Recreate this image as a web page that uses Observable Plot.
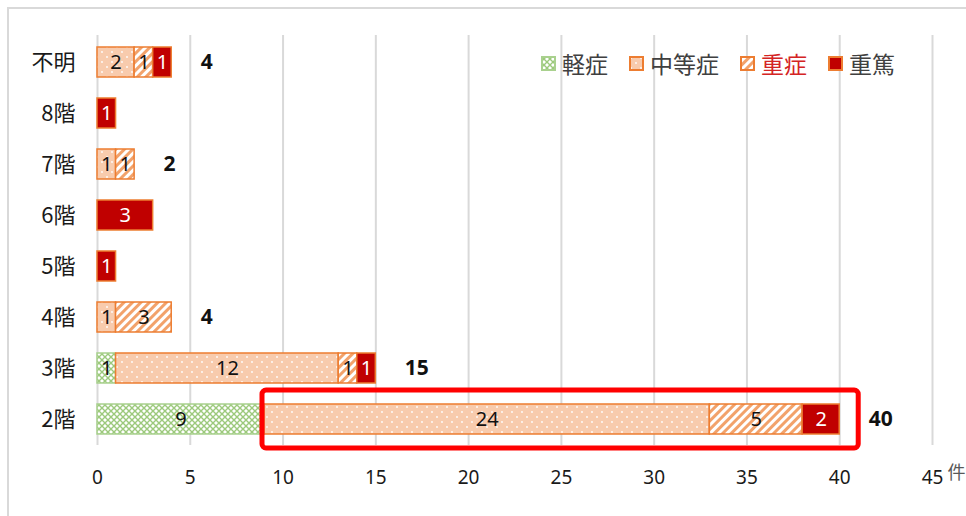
<!DOCTYPE html>
<html><head><meta charset="utf-8">
<script src="https://cdn.jsdelivr.net/npm/d3@7"></script>
<script src="https://cdn.jsdelivr.net/npm/@observablehq/plot@0.6"></script>
<style>
html,body{margin:0;padding:0;background:#fff;overflow:hidden;width:966px;height:516px}
#wrap{position:relative;width:966px;height:516px;font-family:"Noto Sans","Noto Sans CJK JP",sans-serif}
#border{position:absolute;left:7px;top:7px;width:1000px;height:600px;border:2px solid #d9d9d9;box-sizing:border-box}
#chart{position:absolute;left:0;top:0}
#legend{position:absolute;left:541px;top:46px;display:flex;align-items:center;font-size:23px;color:#404040;font-family:"Noto Sans CJK JP",sans-serif}
.item{display:flex;align-items:center;margin-right:21px}
.item svg{margin-right:6px}
</style></head>
<body>
<svg width="0" height="0" style="position:absolute">
<defs>
<pattern id="pMild" width="6" height="6" patternUnits="userSpaceOnUse">
<rect width="6" height="6" fill="#ffffff"/>
<path d="M0,0L6,6M6,0L0,6" stroke="#9cc97c" stroke-width="1.4"/>
</pattern>
<pattern id="pMod" width="10" height="10" patternUnits="userSpaceOnUse">
<rect width="10" height="10" fill="#f8cbad"/>
<circle cx="2" cy="2" r="0.9" fill="#fff"/>
<circle cx="7" cy="7" r="0.9" fill="#fff"/>
</pattern>
<pattern id="pSev" width="6" height="6" patternUnits="userSpaceOnUse" patternTransform="rotate(45)">
<rect width="6" height="6" fill="#ffffff"/>
<rect width="3" height="6" fill="#f2a26b"/>
</pattern>
</defs>
</svg>
<div id="wrap"><div id="border"></div><div id="chart"></div><div id="legend"></div></div>
<script>
const floors = ["不明","8階","7階","6階","5階","4階","3階","2階"];
const severities = ["軽症","中等症","重症","重篤"];
const mild     = [0,0,0,0,0,0,1,9];
const moderate = [2,0,1,0,0,1,12,24];
const severe   = [1,0,1,0,0,3,1,5];
const critical = [1,1,0,3,1,0,1,2];
const totalLabels = ["4","","2","","","4","15","40"];
const xTicks = [0,5,10,15,20,25,30,35,40,45];
const highlight = [{floor:"2階", from:9, to:40}];

const sevFills = ["url(#pMild)","url(#pMod)","url(#pSev)","#c00000"];
const series = [mild, moderate, severe, critical];

const rows = [];
floors.forEach((f, i) => {
  let acc = 0;
  severities.forEach((s, j) => {
    const v = series[j][i];
    if (v > 0) rows.push({floor:f, sev:s, value:v, x1:acc, x2:acc+v});
    acc += v;
  });
});
const totals = floors.map((f, i) => ({floor:f, label:totalLabels[i],
  total: mild[i]+moderate[i]+severe[i]+critical[i]})).filter(d => d.label !== "");

const chart = Plot.plot({
  width:966, height:516,
  marginLeft:97, marginRight:34, marginTop:35, marginBottom:71,
  style:{fontFamily:'"Noto Sans","Noto Sans CJK JP",sans-serif', fontSize:"19px", color:"#1a1a1a", background:"transparent", overflow:"visible"},
  x:{domain:[0,45], label:null},
  y:{domain:floors, paddingInner:0.42, paddingOuter:0.22, label:null},
  color:{domain:severities, range:sevFills},
  marks:[
    Plot.ruleX(xTicks, {stroke:"#d9d9d9", strokeWidth:2}),
    Plot.axisX({ticks:xTicks, tickSize:0, tickPadding:25, fontSize:19, label:null}),
    Plot.axisY({tickSize:0, tickPadding:22, fontSize:22, label:null, fontFamily:'"Noto Sans CJK JP",sans-serif'}),
    Plot.barX(rows.filter(d => d.sev === "軽症"), {x1:"x1", x2:"x2", y:"floor", fill:"sev", stroke:"#a9d18e", strokeWidth:1.5}),
    Plot.barX(rows.filter(d => d.sev !== "軽症"), {x1:"x1", x2:"x2", y:"floor", fill:"sev", stroke:"#ed7d31", strokeWidth:1.5}),
    Plot.text(rows.filter(d => d.sev !== "重篤"), {x:d => (d.x1+d.x2)/2, y:"floor", text:d => String(d.value), fill:"#111", fontSize:20}),
    Plot.text(rows.filter(d => d.sev === "重篤"), {x:d => (d.x1+d.x2)/2, y:"floor", text:d => String(d.value), fill:"#fff", fontSize:20}),
    Plot.text(totals, {x:"total", y:"floor", text:"label", dx:29, textAnchor:"start", fontWeight:"bold", fontSize:21, fill:"#111"}),
    Plot.barX(highlight, {x1:"from", x2:"to", y:"floor", fill:"none", stroke:"#ff0000", strokeWidth:5,
      insetTop:-14, insetBottom:-14, insetLeft:-2, insetRight:-19, rx:4}),
    Plot.text(["件"], {frameAnchor:"bottom-right", dx:15, dy:33, textAnchor:"start", fill:"#595959", fontSize:18, fontFamily:'"Noto Sans CJK JP",sans-serif'})
  ]
});
document.getElementById("chart").appendChild(chart);

// legend
const legendColors = {"軽症":"#404040","中等症":"#404040","重症":"#d42424","重篤":"#404040"};
const legendStroke = {"軽症":"#a9d18e","中等症":"#ed7d31","重症":"#ed7d31","重篤":"#ed7d31"};
const lg = d3.select("#legend");
severities.forEach((s, j) => {
  const it = lg.append("div").attr("class","item");
  const sv = it.append("svg").attr("width",15).attr("height",15);
  sv.append("rect").attr("x",1).attr("y",1).attr("width",13).attr("height",13)
    .attr("fill", sevFills[j]).attr("stroke", legendStroke[s]).attr("stroke-width",2);
  it.append("span").text(s).style("color", legendColors[s]);
});
</script>
</body></html>
